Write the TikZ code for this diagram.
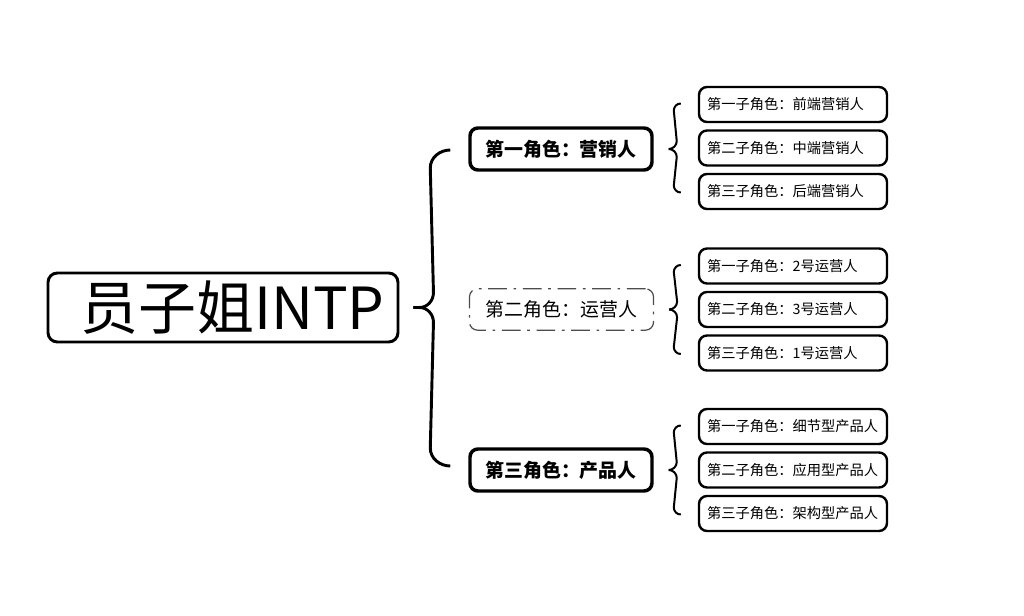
\documentclass[tikz,border=0pt]{standalone}
\usepackage{fontspec}
\setmainfont{Noto Sans CJK SC}
\newfontfamily\cjk{Noto Sans CJK SC}
\usetikzlibrary{calc}
\tikzset{
  rootbox/.style={draw=black, line width=2.2pt, rounded corners=7pt, minimum width=262.5pt, minimum height=51.75pt, inner sep=0pt, font=\cjk\fontsize{43.5}{47}\selectfont},
  lonebox/.style={draw=black, line width=2.6pt, rounded corners=6pt, minimum width=136.5pt, minimum height=31.5pt, inner sep=0pt, font=\cjk\bfseries\fontsize{14.2}{16}\selectfont},
  ltwobox/.style={draw=black!70, line width=0.9pt, dash pattern=on 14pt off 5pt on 2pt off 5pt, rounded corners=6pt, minimum width=138pt, minimum height=31pt, inner sep=0pt, font=\cjk\fontsize{14.2}{16}\selectfont},
  subbox/.style={draw=black, line width=1.8pt, rounded corners=6pt, minimum width=141pt, minimum height=26.25pt, inner sep=0pt, font=\cjk\fontsize{10.7}{12}\selectfont},
  bigbrace/.style={draw=black, line width=2.2pt},
  smallbrace/.style={draw=black, line width=1.5pt}
}
\newcommand{\subtxt}[1]{\makebox[129pt][l]{#1}}
\begin{document}
\begin{tikzpicture}[x=0.75pt,y=-0.75pt]
\useasboundingbox (0,0) rectangle (1024,616);
\fill[white] (0,0) rectangle (1024,616);

\node[rootbox] (root) at (223,307.5) {\hspace*{14pt}员子姐INTP};

\node[lonebox] (la) at (561,149) {第一角色：营销人};
\node[ltwobox] (lb) at (561.5,309.5) {第二角色：运营人};
\node[lonebox] (lc) at (561,470) {第三角色：产品人};

\node[subbox] (a1) at (793,104.5) {\subtxt{第一子角色：前端营销人}};
\node[subbox] (a2) at (793,148) {\subtxt{第二子角色：中端营销人}};
\node[subbox] (a3) at (793,191.5) {\subtxt{第三子角色：后端营销人}};
\node[subbox] (b1) at (793,266) {\subtxt{第一子角色：2号运营人}};
\node[subbox] (b2) at (793,309.5) {\subtxt{第二子角色：3号运营人}};
\node[subbox] (b3) at (793,353) {\subtxt{第三子角色：1号运营人}};
\node[subbox] (c1) at (793,426.5) {\subtxt{第一子角色：细节型产品人}};
\node[subbox] (c2) at (793,470) {\subtxt{第二子角色：应用型产品人}};
\node[subbox] (c3) at (793,513.5) {\subtxt{第三子角色：架构型产品人}};

% big brace from root to level-1 nodes
\coordinate (rt) at ($(root.east)+(14,0)$);
\coordinate (rtop) at ($(la.west)+(-18,1)$);
\coordinate (rbot) at ($(lc.west)+(-18,-4)$);
\path[bigbrace] (rtop) to[out=180,in=90] ($(rtop)+(-20,18)$) -- ($(rt)+(20,-15)$) to[out=-90,in=0] ($(rt)+(6,0)$) -- (rt);
\path[bigbrace] (rt) -- ($(rt)+(6,0)$) to[out=0,in=90] ($(rt)+(20,15)$) -- ($(rbot)+(-20,-18)$) to[out=-90,in=180] (rbot);

% small braces
\foreach \p/\t/\b in {la/a1/a3, lb/b1/b3, lc/c1/c3}{
  \coordinate (tip) at ($(\p.east)+(15,0)$);
  \coordinate (top) at ($(\t.west)+(-17,-1)$);
  \coordinate (bot) at ($(\b.west)+(-17,1)$);
  \path[smallbrace] (top) to[out=180,in=90] ($(top)+(-7,7)$) -- ($(tip)+(8,-8)$) to[out=-90,in=0] (tip);
  \path[smallbrace] (tip) to[out=0,in=90] ($(tip)+(8,8)$) -- ($(bot)+(-7,-7)$) to[out=-90,in=180] (bot);
}
\end{tikzpicture}
\end{document}
